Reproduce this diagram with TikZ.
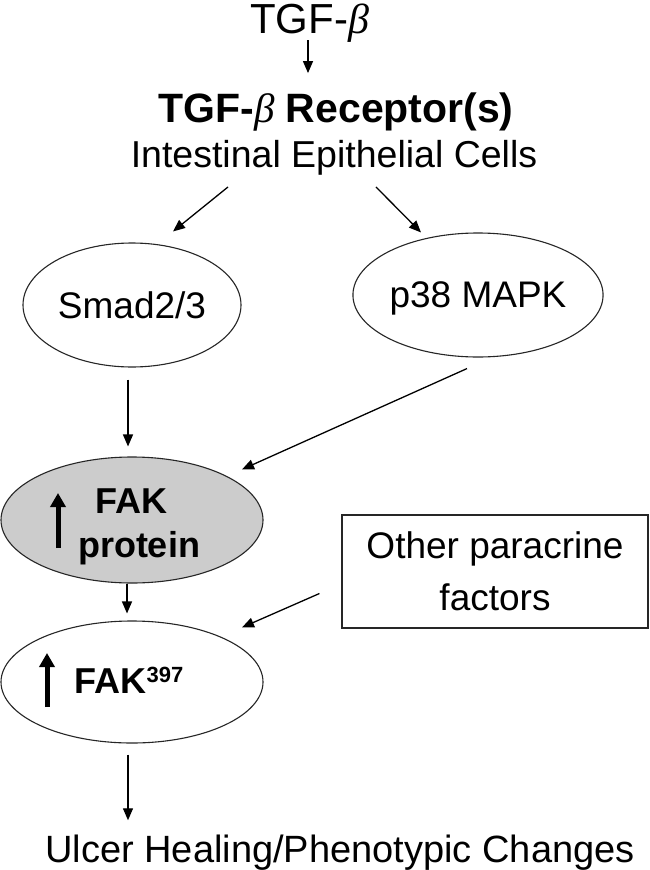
\documentclass[tikz,border=0pt]{standalone}
\usepackage{fontspec}
\setmainfont{Liberation Sans}
\newfontfamily\betafont{Liberation Serif}
\usetikzlibrary{arrows.meta,shapes.geometric,calc}
\newcommand\fsz[2]{\fontsize{#1}{#2}\selectfont}
\newcommand\bet{{\betafont\mdseries\itshape β}}
\begin{document}
\begin{tikzpicture}[x=1pt,y=-1pt,
  arr/.style={-{Triangle[length=12pt,width=10pt]}, line width=1.3pt},
  oval/.style={ellipse, draw=black!85, line width=1.1pt, inner sep=0pt},
  uparr/.style={-{Triangle[length=14pt,width=15pt]}, line width=5pt},
  txt/.style={anchor=base, inner sep=0pt}]
\fill[white] (0,0) rectangle (650,870);
\useasboundingbox (0,0) rectangle (650,870);
% texts at top
\node[txt, font=\fsz{42}{50}] (tgf) at (309.5,33) {TGF-\bet};
\node[txt, font=\bfseries\fsz{41}{48}] (rec) at (336,122) {TGF-\bet\ Receptor(s)};
\node[txt, font=\fsz{37.5}{45}] (cells) at (334,167) {Intestinal Epithelial Cells};
% ellipses
\node[oval, minimum width=218, minimum height=124, font=\fsz{37}{44}] (smad) at (132,305) {Smad2/3};
\node[oval, minimum width=228, minimum height=124, text depth=0pt, font=\fsz{37}{44}] (p38) at (478,295) {p38 MAPK};
\node[oval, fill=black!20, minimum width=262, minimum height=126] (fakp) at (132,520) {};
\node[txt, font=\bfseries\fsz{36}{44}] (fakpa) at (131,513) {FAK};
\node[txt, font=\bfseries\fsz{36}{44}] (fakpb) at (139,557) {protein};
\node[oval, minimum width=262, minimum height=122] (fak397) at (132,682) {};
\node[txt, font=\bfseries\fsz{36}{44}] (fakt) at (129,693) {FAK\raisebox{11pt}{\fsz{22}{22}397}};
% box
\node[draw=black!85, line width=1.1pt, minimum width=306, minimum height=113, align=center, inner sep=0pt, font=\fsz{37}{52}] (box) at (495,571.5) {Other paracrine\\factors};
% bottom text
\node[txt, font=\fsz{38}{45}] (ulcer) at (340,862) {Ulcer Healing/Phenotypic Changes};
% thick up arrows
\draw[uparr] ([xshift=-74,yshift=-28]fakp.center) -- ([xshift=-74,yshift=27]fakp.center);
\draw[uparr] ([xshift=-85,yshift=-25]fak397.center) -- ([xshift=-85,yshift=29]fak397.center);
% connectors
\draw[arr] ([xshift=-1.5,yshift=-7]tgf.base) -- ([xshift=-28,yshift=19]rec.north);
\draw[arr] ([xshift=-106,yshift=-12]cells.south) -- ([xshift=41,yshift=11]smad.north);
\draw[arr] ([xshift=42,yshift=-12]cells.south) -- ([xshift=-57,yshift=0]p38.north);
\draw[arr] ([xshift=-4,yshift=-12]smad.south) -- ([xshift=-4,yshift=10]fakp.north);
\draw[arr] ([xshift=-11,yshift=-11]p38.south) -- ([xshift=110,yshift=-13]fakp.north);
\draw[arr] ([xshift=-5]fakp.south) -- ([xshift=-5,yshift=7]fak397.north);
\draw[arr] ([xshift=-22,yshift=-22]box.west) -- ([xshift=110,yshift=-7]fak397.north);
\draw[arr] ([xshift=-4,yshift=-11]fak397.south) -- ([xshift=-212,yshift=14]ulcer.north);
\end{tikzpicture}
\end{document}
